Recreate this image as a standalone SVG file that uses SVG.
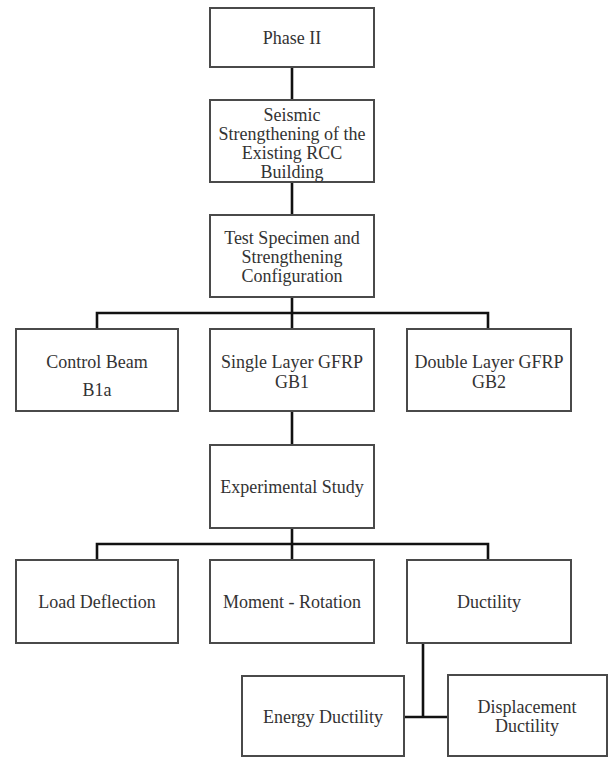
<svg xmlns="http://www.w3.org/2000/svg" width="608" height="757" viewBox="0 0 608 757">
<style>
.box{fill:#fff;stroke:#4a4a4a;stroke-width:2}
.t{font-family:"Liberation Serif","Times New Roman",serif;font-size:18px;fill:#333;text-anchor:middle}
.c{fill:none;stroke:#111;stroke-width:2.6}
</style>
<rect width="608" height="757" fill="#fff"/>
<g id="connectors">
<line class="c" x1="292" y1="67" x2="292" y2="100"/>
<line class="c" x1="292" y1="182" x2="292" y2="215"/>
<line class="c" x1="292" y1="297" x2="292" y2="329"/>
<polyline class="c" points="97,329 97,313 488,313 488,329"/>
<line class="c" x1="292" y1="411" x2="292" y2="445"/>
<line class="c" x1="292" y1="528" x2="292" y2="560"/>
<polyline class="c" points="97,560 97,544 488,544 488,560"/>
<line class="c" x1="423" y1="643" x2="423" y2="717"/>
<line class="c" x1="404" y1="717" x2="448" y2="717"/>
</g>
<g id="phase2"><rect class="box" x="210" y="8" width="164" height="59"/><text class="t" x="292" y="44">Phase II</text></g>
<g id="seismic"><rect class="box" x="210" y="100" width="164" height="82"/>
<text class="t" x="292" y="121">Seismic</text><text class="t" x="292" y="140">Strengthening of the</text><text class="t" x="292" y="159">Existing RCC</text><text class="t" x="292" y="178">Building</text></g>
<g id="test"><rect class="box" x="210" y="215" width="164" height="82"/>
<text class="t" x="292" y="244">Test Specimen and</text><text class="t" x="292" y="263">Strengthening</text><text class="t" x="292" y="282">Configuration</text></g>
<g id="control"><rect class="box" x="16" y="329" width="162" height="82"/>
<text class="t" x="97" y="368">Control Beam</text><text class="t" x="97" y="396">B1a</text></g>
<g id="single"><rect class="box" x="210" y="329" width="164" height="82"/>
<text class="t" x="292" y="368">Single Layer GFRP</text><text class="t" x="292" y="388">GB1</text></g>
<g id="double"><rect class="box" x="407" y="329" width="164" height="82"/>
<text class="t" x="489" y="368">Double Layer GFRP</text><text class="t" x="489" y="388">GB2</text></g>
<g id="experimental"><rect class="box" x="210" y="445" width="164" height="83"/>
<text class="t" x="292" y="493">Experimental Study</text></g>
<g id="load"><rect class="box" x="16" y="560" width="162" height="83"/>
<text class="t" x="97" y="608">Load Deflection</text></g>
<g id="moment"><rect class="box" x="210" y="560" width="164" height="83"/>
<text class="t" x="292" y="608">Moment - Rotation</text></g>
<g id="ductility"><rect class="box" x="407" y="560" width="164" height="83"/>
<text class="t" x="489" y="608">Ductility</text></g>
<g id="energy"><rect class="box" x="242" y="676" width="162" height="80"/>
<text class="t" x="323" y="723">Energy Ductility</text></g>
<g id="displacement"><rect class="box" x="448" y="675" width="159" height="81"/>
<text class="t" x="527" y="713">Displacement</text><text class="t" x="527" y="732">Ductility</text></g>
</svg>
